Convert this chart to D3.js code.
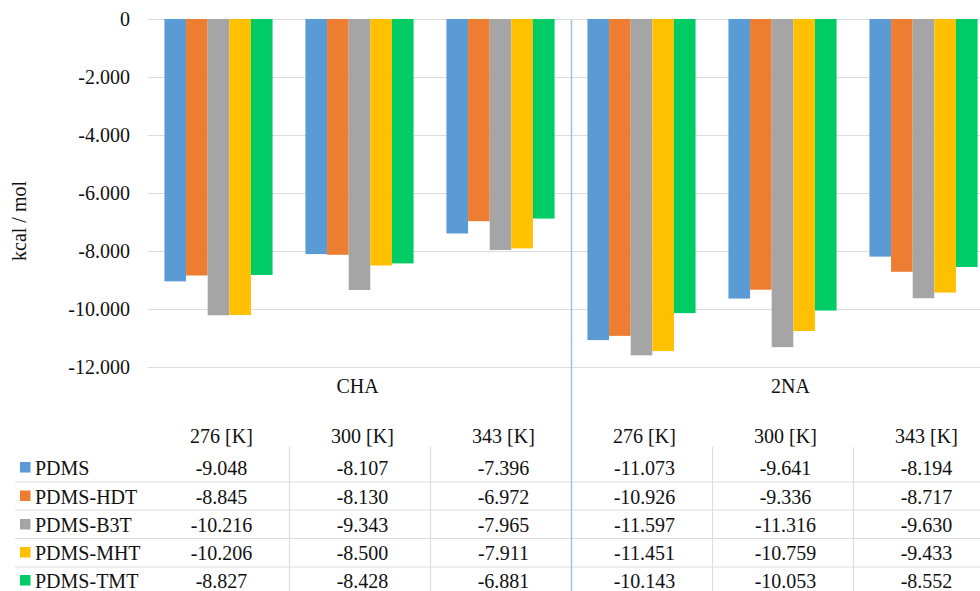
<!DOCTYPE html>
<html>
<head>
<meta charset="utf-8">
<script src="https://cdn.jsdelivr.net/npm/d3@7"></script>
<style>
  html, body { margin: 0; padding: 0; background: #fff; }
  svg text { font-family: "Liberation Serif", "Times New Roman", Times, Tinos, "Noto Serif", "Nimbus Roman", "Nimbus Roman No9 L", FreeSerif, "DejaVu Serif", serif !important; }
</style>
</head>
<body>
<svg id="chart" width="980" height="591"></svg>
<script>
// ---- data ----
const groups = ["CHA", "2NA"];
const temperatures = ["276 [K]", "300 [K]", "343 [K]"];
const seriesNames = ["PDMS", "PDMS-HDT", "PDMS-B3T", "PDMS-MHT", "PDMS-TMT"];
const seriesColors = ["#5B9BD5", "#ED7D31", "#A5A5A5", "#FFC000", "#00CC66"];
// values per series, in category order: CHA 276, 300, 343, 2NA 276, 300, 343
const PDMS     = [-9048, -8107, -7396, -11073, -9641, -8194];
const PDMS_HDT = [-8845, -8130, -6972, -10926, -9336, -8717];
const PDMS_B3T = [-10216, -9343, -7965, -11597, -11316, -9630];
const PDMS_MHT = [-10206, -8500, -7911, -11451, -10759, -9433];
const PDMS_TMT = [-8827, -8428, -6881, -10143, -10053, -8552];
const yTicks = [0, -2000, -4000, -6000, -8000, -10000, -12000];
const yTitle = "kcal / mol";

const seriesValues = [PDMS, PDMS_HDT, PDMS_B3T, PDMS_MHT, PDMS_TMT];
const categories = [];
groups.forEach(g => temperatures.forEach(t => categories.push({ group: g, temp: t, key: g + "|" + t })));

// ---- layout ----
const svg = d3.select("#chart");
const plotLeft = 148, plotRight = 994, plotTop = 19, plotBottom = 367;
const viewRight = 980;

const loc = d3.formatLocale({ decimal: ",", thousands: ".", grouping: [3], currency: ["", ""], minus: "-" });
const fmt = loc.format(",d");

const x0 = d3.scaleBand().domain(categories.map(c => c.key)).range([plotLeft, plotRight]).paddingInner(0).paddingOuter(0);
const x1 = d3.scaleBand().domain(seriesNames).range([0, x0.bandwidth()]).paddingInner(0).paddingOuter(0.76);
const y = d3.scaleLinear().domain([0, -12000]).range([plotTop, plotBottom]);

const gridColor = "#DDDDDD";
const textColor = "#111";

// gridlines
svg.append("g").selectAll("line").data(yTicks).join("line")
  .attr("x1", plotLeft).attr("x2", viewRight)
  .attr("y1", d => Math.round(y(d)) + 0.5).attr("y2", d => Math.round(y(d)) + 0.5)
  .attr("stroke", gridColor).attr("stroke-width", 1.2);

// y axis labels via d3 axis
const yAxis = d3.axisLeft(y).tickValues(yTicks).tickFormat(fmt).tickSize(0).tickPadding(0);
const ya = svg.append("g").attr("transform", `translate(130,0)`).call(yAxis);
ya.attr("font-family", null).attr("font-size", null);
ya.select(".domain").remove();
ya.selectAll("text").attr("font-size", 20).attr("fill", textColor);

// y title
svg.append("text")
  .attr("transform", `translate(26,${(plotTop + plotBottom) / 2 + 28}) rotate(-90)`)
  .attr("text-anchor", "middle").attr("font-size", 20).attr("fill", textColor)
  .text(yTitle);

// bars
const barData = [];
seriesNames.forEach((s, si) => {
  categories.forEach((c, ci) => {
    barData.push({ series: s, color: seriesColors[si], cat: c.key, value: seriesValues[si][ci] });
  });
});
svg.append("g").selectAll("rect").data(barData).join("rect")
  .attr("x", d => x0(d.cat) + x1(d.series))
  .attr("width", x1.bandwidth())
  .attr("y", y(0))
  .attr("height", d => y(d.value) - y(0))
  .attr("fill", d => d.color);

// group labels
const groupOffsets = [-2, 8];
groups.forEach((g, gi) => {
  const cats = categories.filter(c => c.group === g);
  const gx0 = x0(cats[0].key), gx1 = x0(cats[cats.length - 1].key) + x0.bandwidth();
  svg.append("text")
    .attr("x", (gx0 + gx1) / 2 + groupOffsets[gi]).attr("y", 393)
    .attr("text-anchor", "middle").attr("font-size", 20).attr("fill", textColor)
    .text(g);
});

// ---- data table ----
const headerY = 443;
const rowY = [475, 503.5, 532, 560, 588];
const rowLineY = [482, 510, 538.5, 567];

// row separators
svg.append("g").selectAll("line").data(rowLineY).join("line")
  .attr("x1", 15).attr("x2", viewRight)
  .attr("y1", d => d).attr("y2", d => d)
  .attr("stroke", gridColor).attr("stroke-width", 1.2);

// vertical column separators in table (inside each group)
const colBounds = categories.slice(1).map(c => x0(c.key));
svg.append("g").selectAll("line").data(colBounds.filter((b, i) => (i + 1) % temperatures.length !== 0)).join("line")
  .attr("x1", d => Math.round(d) + 0.5).attr("x2", d => Math.round(d) + 0.5)
  .attr("y1", 447).attr("y2", 591)
  .attr("stroke", gridColor).attr("stroke-width", 1.2);

// group separator line (light blue)
const sepX = x0(categories[temperatures.length].key);
svg.append("line")
  .attr("x1", Math.round(sepX) + 0.5).attr("x2", Math.round(sepX) + 0.5)
  .attr("y1", plotTop + 1).attr("y2", 591)
  .attr("stroke", "#9DC3E6").attr("stroke-width", 1.5);

// header row
svg.append("g").selectAll("text").data(categories).join("text")
  .attr("x", d => x0(d.key) + x0.bandwidth() / 2 + 3)
  .attr("y", headerY)
  .attr("text-anchor", "middle").attr("font-size", 20).attr("fill", textColor)
  .text(d => d.temp);

// legend keys and names
seriesNames.forEach((s, si) => {
  svg.append("rect").attr("x", 20).attr("y", rowY[si] - 13).attr("width", 10.5).attr("height", 10.5)
    .attr("fill", seriesColors[si]);
  svg.append("text").attr("x", 35).attr("y", rowY[si]).attr("font-size", 20).attr("fill", textColor)
    .text(s);
  svg.append("g").selectAll("text").data(categories).join("text")
    .attr("x", (d) => x0(d.key) + x0.bandwidth() / 2 + 3)
    .attr("y", rowY[si])
    .attr("text-anchor", "middle").attr("font-size", 20).attr("fill", textColor)
    .text((d, ci) => fmt(seriesValues[si][ci]));
});
</script>
</body>
</html>
